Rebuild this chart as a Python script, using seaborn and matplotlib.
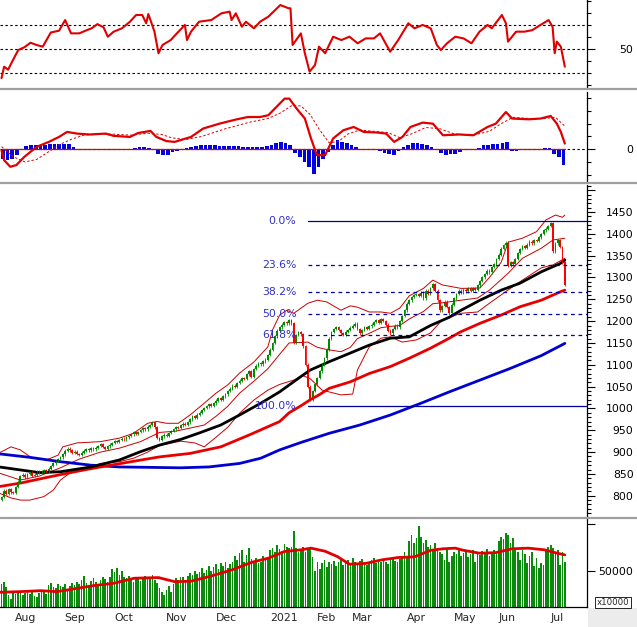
import numpy as np
import pandas as pd
import matplotlib
matplotlib.use("Agg")
import matplotlib.pyplot as plt
import seaborn as sns
from matplotlib.ticker import FixedLocator
from matplotlib.patches import Rectangle

sns.set_style("white")
plt.rcParams["font.family"] = ["DejaVu Sans"]

# daily closes, trading days 27 Jul 2020 .. 12 Jul 2021
close = [797, 812, 804, 815, 808,
         806, 820, 832, 845, 848, 842, 850, 853, 845, 848, 856, 852, 855, 858, 855, 862, 868, 874, 880, 884, 888,
         895, 903, 908, 904, 898, 901, 896, 893, 899, 903, 907, 904, 909, 906, 910, 914, 918, 912, 908, 913, 917,
         921, 925, 923, 928, 931, 929, 934, 937, 941, 945, 942, 946, 950, 955, 952, 958, 962, 968, 957, 932, 928, 936,
         940, 938, 944, 948, 952, 957, 955, 961, 965, 963, 968, 975, 982, 978, 986, 990, 996, 1001, 1005, 1010, 1006,
         1012, 1018, 1024, 1020, 1028, 1032, 1040, 1045, 1052, 1049, 1058, 1064, 1070, 1068, 1078, 1085, 1072, 1090,
         1098, 1104, 1101, 1108, 1112,
         1122, 1135, 1150, 1165, 1178, 1186, 1192, 1198, 1195, 1202, 1195, 1150, 1168, 1175, 1170, 1142, 1100, 1050,
         1020, 1040,
         1055, 1070, 1085, 1100, 1115, 1135, 1160, 1175, 1182, 1186, 1180, 1172, 1168, 1176, 1180,
         1185, 1190, 1194, 1182, 1172, 1180, 1186, 1183, 1188, 1192, 1198, 1203, 1196, 1205, 1200, 1192, 1178, 1172,
         1182, 1190, 1186, 1200, 1212,
         1225, 1240, 1248, 1255, 1260, 1262, 1258, 1265, 1252, 1270, 1262, 1275, 1285, 1270, 1248, 1225, 1235, 1245,
         1232, 1218,
         1238, 1252, 1262, 1270, 1266, 1272, 1268, 1275, 1270, 1276, 1272, 1282, 1292, 1300, 1308, 1316, 1312, 1324, 1330,
         1342, 1352, 1366, 1374, 1380, 1326, 1335, 1330, 1342, 1356, 1365, 1372, 1368, 1375, 1382, 1378, 1386, 1384,
         1392, 1400, 1408, 1412,
         1418, 1424, 1360, 1378, 1386, 1370, 1335, 1283]
first_open = 790

# volume (x10000)
volume = [36000, 38000, 33000, 24000, 20000,
          26000, 25000, 28000, 27000, 24000, 26000, 28000, 25000, 27000, 23000, 22000, 26000, 28000, 27000, 25000,
          35000, 37000, 33000, 32000, 36000, 34000,
          33000, 36000, 31000, 34000, 37000, 35000,
          38000, 36000, 40000, 45000, 37000, 35000, 39000, 42000, 38000, 36000, 40000, 44000, 41000, 38000,
          43000,
          52000, 49000, 53000, 46000, 50000, 44000,
          42000, 45000, 40000, 38000, 44000, 41000, 39000, 43000, 45000, 42000, 44000, 46000,
          40000, 37000,
          32000, 27000, 24000, 30000, 34000, 28000, 36000,
          42000, 40000, 44000, 43000, 39000, 45000,
          48000, 46000, 50000, 47000, 49000,
          53000, 48000, 51000, 55000, 50000, 54000,
          57000, 52000, 58000, 55000, 60000, 53000, 57000, 59000,
          66000, 62000, 69000, 72000, 60000, 67000, 74000, 63000, 61000,
          64000, 58000, 60000, 66000, 62000, 65000,
          72000, 74000, 70000, 78000, 73000, 71000, 79000, 76000,
          74000, 75000, 93000,
          74000, 70000, 72000, 76000, 70000, 73000, 75000,
          65000, 50000, 60000, 52000,
          58000, 62000, 54000, 60000, 57000, 61000, 55000, 59000, 63000, 56000, 58000,
          62000, 58000, 64000, 60000, 57000, 61000, 63000, 59000, 56000, 60000, 62000, 64000, 58000, 61000, 59000,
          63000, 60000, 57000, 62000, 64000, 61000, 59000, 63000, 65000,
          70000, 66000, 82000, 88000, 80000, 85000, 98000, 86000, 80000,
          83000, 76000, 78000, 72000, 80000, 74000, 70000,
          68000, 62000, 72000, 60000, 66000,
          70000, 68000, 72000, 66000, 69000, 71000, 65000, 68000, 72000, 60000, 70000, 67000, 71000, 69000, 73000,
          66000, 70000, 72000, 68000,
          82000, 86000, 84000, 90000, 88000, 80000, 85000,
          74000, 70000, 62000, 72000, 68000, 58000, 66000, 70000, 55000, 64000,
          53000, 58000, 56000,
          72000, 76000, 78000, 74000, 70000, 72000,
          56000, 70000, 60000]

# moving averages (trading-day index, value)
ma50_i = [-1, 16, 25, 38, 50, 59, 67, 76, 84, 93, 101, 110, 118, 127, 131, 139, 148, 156, 165, 173, 182, 190,
          195, 203, 212, 220, 229, 237, 239]
ma50_v = [866, 853, 855, 866, 882, 901, 916, 929, 944, 962, 985, 1012, 1038, 1073, 1088, 1107, 1127, 1145, 1161,
          1164, 1190, 1209, 1225, 1248, 1271, 1287, 1313, 1332, 1340]
ma100_i = [-1, 8, 21, 33, 42, 55, 67, 80, 93, 105, 118, 122, 127, 131, 135, 139, 148, 156, 165, 173, 182, 190,
           195, 203, 212, 220, 229, 237, 239]
ma100_v = [821, 829, 844, 857, 866, 878, 889, 897, 912, 939, 970, 990, 1006, 1020, 1032, 1046, 1061, 1080, 1096,
           1115, 1138, 1161, 1176, 1195, 1214, 1233, 1248, 1267, 1271]
ma200_i = [-1, 12, 25, 38, 50, 63, 76, 88, 101, 110, 118, 127, 139, 152, 165, 178, 190, 203, 216, 229, 239]
ma200_v = [896, 888, 878, 870, 866, 865, 864, 866, 874, 886, 905, 922, 943, 962, 985, 1012, 1038, 1065, 1092,
           1121, 1149]

# Bollinger bands (20)
bb_mid_i = [-1, 8, 16, 25, 33, 42, 50, 59, 67, 74, 80, 86, 91, 96, 101, 107, 113, 118, 122, 130, 134, 138, 144,
            148, 151, 156, 161, 165, 169, 173, 179, 183, 187, 195, 202, 207, 215, 221, 229, 234, 239]
bb_mid_v = [852, 836, 845, 864, 884, 900, 909, 924, 945, 948, 955, 962, 982, 1005, 1035, 1062, 1091, 1124, 1150,
            1152, 1140, 1135, 1130, 1140, 1160, 1172, 1185, 1188, 1190, 1205, 1222, 1240, 1242, 1248, 1253, 1271,
            1310, 1344, 1367, 1386, 1390]
bb_up_i = [-1, 4, 8, 13, 19, 24, 26, 32, 42, 46, 50, 56, 62, 66, 70, 75, 80, 86, 91, 96, 101, 107, 113, 115, 118,
           121, 124, 130, 134, 138, 144, 148, 151, 156, 161, 165, 169, 173, 179, 183, 187, 195, 203, 207, 212, 215,
           221, 227, 231, 235, 238, 239]
bb_up_v = [898, 912, 905, 886, 882, 893, 912, 921, 924, 928, 932, 943, 966, 970, 966, 966, 985, 1012, 1035, 1054,
           1081, 1106, 1141, 1180, 1214, 1225, 1218, 1241, 1248, 1244, 1225, 1235, 1232, 1221, 1221, 1218, 1230,
           1258, 1275, 1294, 1283, 1275, 1276, 1300, 1335, 1381, 1390, 1405, 1432, 1443, 1438, 1443]
bb_lo_i = [-1, 4, 8, 12, 18, 22, 25, 29, 33, 38, 42, 50, 56, 62, 67, 76, 82, 86, 91, 96, 101, 107, 113, 118, 124,
           128, 131, 136, 144, 149, 151, 156, 161, 165, 170, 176, 182, 187, 195, 202, 207, 219, 223, 229, 234, 239]
bb_lo_v = [806, 795, 790, 790, 798, 813, 836, 852, 859, 866, 874, 878, 886, 900, 915, 925, 921, 912, 934, 957,
           989, 1019, 1042, 1055, 1065, 1075, 1068, 1042, 1031, 1033, 1088, 1141, 1161, 1164, 1152, 1157, 1173,
           1203, 1218, 1221, 1241, 1287, 1301, 1322, 1329, 1344]

# fibonacci retracement
fib_low, fib_high = 1005, 1430
fib_ratios = [0.0, 0.236, 0.382, 0.5, 0.618, 1.0]
fib_labels = ["0.0%", "23.6%", "38.2%", "50.0%", "61.8%", "100.0%"]
fib_start = 130

# RSI
rsi_i = [0, 1.1, 2.8, 4.5, 7.1, 9.7, 12.3, 14.9, 17.5, 20.9, 24.4, 27, 29.5, 33, 35.6, 38.2, 40.7, 43.3, 45.1,
         47.6, 51.1, 54.5, 57.1, 59.7, 61.4, 62.3, 64.9, 66.6, 68.3, 71.8, 74.4, 77.8, 78.7, 80.4, 83.8, 89, 93.3,
         96.8, 97.6, 99.4, 102, 103.7, 107.1, 109.7, 113.2, 118.3, 121.8, 122.6, 123.5, 127, 128.7, 130.7, 133,
         134.7, 137.3, 140.7, 144.2, 147.6, 151.1, 154.5, 158, 160.6, 164.9, 168.3, 172.6, 175.2, 178.7, 182.1,
         184.7, 186.4, 189, 192.5, 196, 199.4, 202.8, 206.2, 208, 212.3, 214, 214.9, 218.3, 221.8, 225.2, 228.7,
         232.1, 233.8, 234.7, 235.6, 237.3, 239]
rsi_v = [26, 35.5, 33, 39.7, 49.4, 51.7, 55.5, 53.6, 52.2, 64, 65.5, 74.4, 63.3, 63.3, 65.5, 67.5, 71, 68.3, 60.5,
         64.7, 67.5, 73, 78.6, 78.6, 71.7, 79.4, 64.7, 46.7, 53.6, 57.7, 63.3, 70.3, 57.7, 64.7, 73, 74.4, 80,
         81.4, 74.4, 80, 68.8, 73, 67.5, 73, 77.2, 86.9, 84.2, 84.2, 53.6, 63.3, 46.7, 31.4, 36.9,
         52.2, 46.7, 60.5, 57.7, 60.5, 55, 59.1, 59.1, 63.3, 48, 57.7, 71.7, 67.5, 70.3, 67.5,
         53.6, 49.4, 55, 60.5, 59.1, 55, 64.7, 70.3, 67.5, 78.6, 71.7, 56.4, 64.7, 64.7, 66, 70.3,
         74.4, 68.8, 46.7, 56.4, 52.2, 35.5]

# MACD, signal, histogram
macd_i = [0, 1.1, 3.7, 6.3, 9.7, 14.9, 20.1, 24.4, 27.8, 32.1, 37.3, 44.2, 47.6, 54.5, 58, 63.2, 65.7, 70, 73.5,
          80.4, 85.6, 92.5, 99.4, 104.5, 109.7, 113.2, 116.6, 120.1, 122.1, 125.2, 128.7, 131.3, 133.8, 137.3,
          140.7, 145, 149.4, 153.7, 159.7, 163.2, 166.6, 170.1, 173.5, 178.7, 183, 187.3, 194.2, 200.2, 206.2,
          209.7, 214, 216.6, 223.5, 228.7, 233, 235.6, 237.3, 239]
macd_v = [-1, -8.6, -13.8, -12.5, -6, 1.8, 5.7, 9.6, 13.5, 12.2, 11.5, 12.2, 10.4, 9.6, 12.7, 14.3, 9.6, 6.3, 5.7,
          9.6, 16.2, 20, 23.2, 25.2, 25.2, 26.6, 33, 39.6, 39.6, 31.8, 24, 8.4, -4.7, -4.7,
          8.4, 14.8, 17.4, 13.5, 13, 12.2, 5.7, 9.6, 17.4, 20.8, 20, 10.9, 11.5, 10.9, 17.4,
          20, 29.1, 24, 23.4, 24, 26, 20, 13.5, 4.4]
sig_i = [0, 5, 10, 15, 20, 25, 30, 35, 45, 55, 62, 68, 72, 78, 85, 95, 105, 113, 118, 123, 127, 131, 135, 139,
         143, 147, 152, 158, 164, 169, 174, 180, 186, 192, 200, 207, 212, 217, 224, 230, 235, 239]
sig_v = [2, -6, -10, -8, -2, 4, 8, 11, 12, 11, 12.5, 11.5, 9, 7.5, 10, 16, 21, 24, 28, 34, 34, 27, 15, 5,
         6, 12, 15, 14, 13, 9, 12, 17, 16, 12, 11, 14, 20, 25, 24, 24, 25, 18]
hist_v = [-7.8, -8.6, -8, -4.7, -0.8, 2.2, 3, 3.6, 3.4, 3.1, 3.8, 4.2, 4.2, 4.4, 4.4, 1.8, 0.5, 0.3, 0.3, 0.2,
          0, -0.3, -0.3, -0.4, -0.3, -0.3, -0.3, -0.2, 1.2, 1.6, 1.5, 1, 0.5, -3.4, -4.2, -4.2, -2.5, -1.5, 0.3,
          0.8, 1.6, 2.8, 3.1, 3.4, 3.4, 3.2, 2.8, 2.3, 2.3, 2.1, 2.3, 2, 1.6, 1.5, 1.6, 1.8, 2.6, 3.5, 5.2, 5.7,
          4.5, 3.1, -3, -6, -10, -14, -19.8, -13.8, -8, -2, 3.5, 7, 6, 5, 3, 2, 0.5, 0, -1, -1,
          -1.2, -3, -3.6, -4.7, -1.5, 1.5, 3.1, 5, 5.2, 4, 3.1, 1.5, 0.5, -3, -4.7, -4, -3.4, -2, -0.8, -0.5,
          0.3, 1.2, 3.1, 3.3, 3.8, 4.4, 4.6, 5.7, -1.6, -1.4, -0.5, -0.5, -0.4, -0.5, 0.5, 1.3, 1.3, -3.4, -6,
          -12.5]

# volume moving average
vma_i = [-1, 8, 16.6, 23.5, 30.4, 39, 47.6, 56.3, 66.6, 73.5, 80.4, 89, 97.6, 106.3, 113.2, 120, 127, 131.3,
         137.3, 142.5, 147.6, 154.5, 161.4, 168.3, 175.2, 182.1, 187.3, 192.5, 196, 202.8, 209.7, 216.6, 223.5,
         230.4, 235.6, 239]
vma_v = [27200, 27900, 28900, 27900, 30700, 34300, 36800, 42200, 42900, 38500, 39000, 44600, 51000, 59300, 63600,
         70700, 72500, 74300, 71000, 65300, 57200, 58000, 61800, 64300, 65000, 72000, 73600, 74300, 72000, 68900,
         69500, 73600, 74300, 72500, 69000, 67100]

month_labels = ["Aug", "Sep", "Oct", "Nov", "Dec", "2021", "Feb", "Mar", "Apr", "May", "Jun", "Jul"]
month_start = [5, 26, 47, 69, 90, 113, 133, 148, 171, 191, 210, 232]

df = pd.DataFrame({"i": np.arange(len(close)), "close": close, "volume": volume})
df["open"] = df["close"].shift(1).fillna(first_open)
df["lo"] = df[["open", "close"]].min(axis=1)
df["hi"] = df[["open", "close"]].max(axis=1)
df["up"] = df["close"] >= df["open"]

W, H = 637, 627
fig = plt.figure(figsize=(W / 100, H / 100), dpi=100)
axw = 587 / W


def panel(top, bottom):
    return fig.add_axes([0, 1 - bottom / H, axw, (bottom - top) / H])


ax_rsi = panel(0, 88)
ax_macd = panel(92, 181.7)
ax_px = panel(185, 517)
ax_vol = panel(519, 607)

XLIM = (-0.64, 248.4)
RED = "#e00000"
GREEN = "#0a8a0a"


def right_axis(ax, major, labels, minor, major_len, minor_len=2.6):
    ax.yaxis.tick_right()
    ax.yaxis.set_major_locator(FixedLocator(major))
    ax.set_yticklabels(labels)
    ax.yaxis.set_minor_locator(FixedLocator(minor))
    ax.tick_params(axis="y", which="major", length=major_len, width=0.8, direction="out",
                   pad=33.5 - major_len, labelsize=7.8, colors="black")
    ax.tick_params(axis="y", which="minor", length=minor_len, width=0.8, direction="out", colors="black")
    for t in ax.get_yticklabels():
        t.set_horizontalalignment("right")


for ax in (ax_rsi, ax_macd, ax_px, ax_vol):
    ax.set_xlim(*XLIM)
    for s in ("top", "left", "bottom"):
        ax.spines[s].set_visible(False)
    ax.spines["right"].set_color("black")
    ax.spines["right"].set_linewidth(0.9)
    ax.set_xticks([])
    ax.set_facecolor("white")

# RSI
ax_rsi.set_ylim(17.75, 91.1)
for lvl in (30, 50, 70):
    ax_rsi.axhline(lvl, color="black", lw=0.8, ls=(0, (2.2, 2.2)))
sns.lineplot(x=rsi_i, y=rsi_v, ax=ax_rsi, color=RED, lw=1.5, estimator=None, sort=False)
right_axis(ax_rsi, [50], ["50"], [20, 30, 40, 60, 70, 80, 90], 5.5)

# MACD
ax_macd.set_ylim(-25.5, 44.8)
ax_macd.axhline(0, color="black", lw=0.8, ls=(0, (2.2, 2.2)))
hist_i = np.arange(0, len(close), 2)
ax_macd.bar(hist_i + 0.5, hist_v, width=1.55, color="#0000e0", lw=0)
ax_macd.plot([0, len(close) - 1], [0, 0], color=RED, lw=0.9)
sns.lineplot(x=sig_i, y=sig_v, ax=ax_macd, color=RED, lw=0.7, ls=(0, (2.5, 2)), estimator=None, sort=False)
sns.lineplot(x=macd_i, y=macd_v, ax=ax_macd, color=RED, lw=1.6, estimator=None, sort=False)
right_axis(ax_macd, [0], ["0"], [-20, -10, 10, 20, 30, 40], 5.5)

# price
ax_px.set_ylim(751.3, 1511.9)
for arr_i, arr_v in ((bb_up_i, bb_up_v), (bb_mid_i, bb_mid_v), (bb_lo_i, bb_lo_v)):
    sns.lineplot(x=arr_i, y=arr_v, ax=ax_px, color="#c80000", lw=0.7, estimator=None, sort=False)
sns.lineplot(x=ma200_i, y=ma200_v, ax=ax_px, color="#0000d0", lw=2.0, estimator=None, sort=False)
sns.lineplot(x=ma100_i, y=ma100_v, ax=ax_px, color="#e80000", lw=2.0, estimator=None, sort=False)
sns.lineplot(x=ma50_i, y=ma50_v, ax=ax_px, color="black", lw=2.0, estimator=None, sort=False)

colors = np.where(df["up"], "#008a00", "#ff0000")
ax_px.vlines(df["i"], df["lo"] - 3, df["hi"] + 3, colors=colors, lw=0.6)
ax_px.bar(df["i"], np.maximum(df["hi"] - df["lo"], 1.5), bottom=df["lo"], width=0.75, color=colors, lw=0)

span = fib_high - fib_low
for r, lab in zip(fib_ratios, fib_labels):
    lvl = fib_high - r * span
    ls = "-" if r in (0.0, 1.0) else (0, (3, 3))
    ax_px.plot([fib_start, XLIM[1]], [lvl, lvl], color="#0000a0", lw=0.9, ls=ls)
    ax_px.text(fib_start - 4.9, lvl, lab, color="#3030c8", fontsize=7.8, ha="right", va="center")

right_axis(ax_px, list(range(800, 1501, 50)), [str(v) for v in range(800, 1451, 50)] + [""],
           [v for v in range(760, 1511, 10) if v % 50], 6.0, 3.0)

# volume
ax_vol.set_ylim(11500, 105400)
ax_vol.bar(df["i"], df["volume"], width=0.72, color=GREEN, lw=0)
sns.lineplot(x=vma_i, y=vma_v, ax=ax_vol, color=RED, lw=2.0, estimator=None, sort=False)
right_axis(ax_vol, [50000, 100000], ["50000", ""], [], 6.0)
ax_vol.spines["bottom"].set_visible(True)
ax_vol.spines["bottom"].set_color("black")
ax_vol.spines["bottom"].set_linewidth(0.9)
ax_vol.set_xticks(month_start)
ax_vol.set_xticklabels([])
ax_vol.set_xticks(np.arange(0, len(close), 5), minor=True)
ax_vol.tick_params(axis="x", which="major", length=14.5, width=0.8, direction="out", colors="black")
ax_vol.tick_params(axis="x", which="minor", length=3.5, width=0.8, direction="out", colors="black")
for m, lab in zip(month_start, month_labels):
    ax_vol.text(m + 0.8, -0.13, lab, transform=ax_vol.get_xaxis_transform(), fontsize=7.8,
                ha="left", va="center")

# separators and decorations
for y in (89.3, 183.2, 518.2):
    fig.add_artist(plt.Line2D([0, 1], [1 - y / H, 1 - y / H], color="#a0a0a0", lw=1.6))
fig.add_artist(Rectangle((588 / W, 0), 49 / W, 19.5 / H, color="#ececec", lw=0))
fig.text(613 / W, 1 - 602.5 / H, "x10000", fontsize=6.2, ha="center", va="center",
         bbox=dict(boxstyle="square,pad=0.15", fc="white", ec="black", lw=0.6))

fig.savefig("out.png", dpi=100, facecolor="white")
